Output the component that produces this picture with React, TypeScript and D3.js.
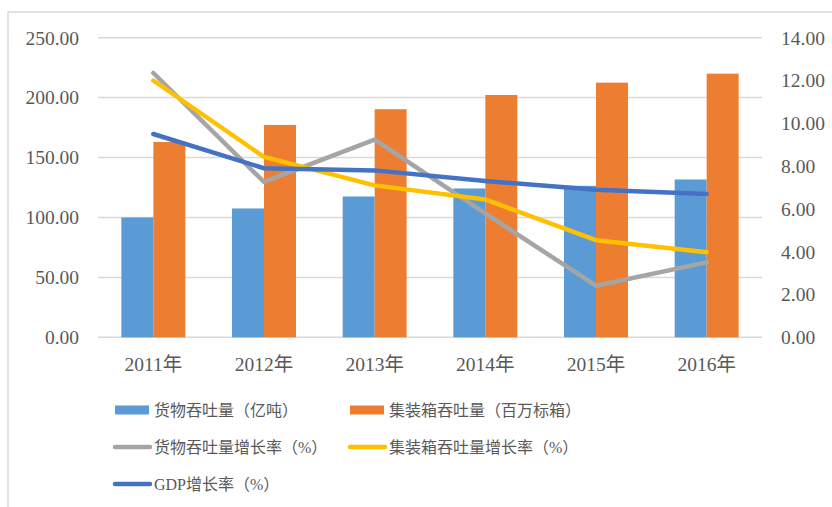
import React from "react";
import * as d3 from "d3";

const years = ["2011年", "2012年", "2013年", "2014年", "2015年", "2016年"];
const cargo = [100, 107.5, 117.5, 124.2, 126.4, 131.7];
const container = [163, 177.2, 190.3, 202.2, 212.5, 220];
const cargoGrowth = [12.35, 7.26, 9.24, 5.79, 2.41, 3.5];
const containerGrowth = [12.0, 8.43, 7.1, 6.44, 4.54, 3.97];
const gdpGrowth = [9.5, 7.9, 7.8, 7.3, 6.9, 6.7];
const leftTicks = [0, 50, 100, 150, 200, 250];
const rightTicks = [0, 2, 4, 6, 8, 10, 12, 14];

const C_CARGO = "#5B9BD5";
const C_CONT = "#ED7D31";
const C_GRAY = "#A5A5A5";
const C_YEL = "#FFC000";
const C_GDP = "#4472C4";
const TXT = "#595959";

export default function App() {
  const W = 832, H = 507;
  const left = 98, right = 762, top = 37.7, bottom = 337.3;
  const x = d3.scaleBand<string>().domain(years).range([left, right]).paddingInner(0.422).paddingOuter(0.211);
  const bw = x.bandwidth() / 2;
  const yL = d3.scaleLinear().domain([0, 250]).range([bottom, top]);
  const yR = d3.scaleLinear().domain([0, 14]).range([bottom, top]);
  const cx = (i: number) => (x(years[i]) as number) + x.bandwidth() / 2;
  const line = d3.line<number>().x((_, i) => cx(i)).y((d) => yR(d));
  const serif = "Liberation Serif, Times New Roman, serif";
  const cjk = "Liberation Serif, Noto Sans CJK SC, serif";

  const legend = [
    { type: "rect", color: C_CARGO, label: "货物吞吐量（亿吨）", x: 115, y: 410 },
    { type: "rect", color: C_CONT, label: "集装箱吞吐量（百万标箱）", x: 350, y: 410 },
    { type: "line", color: C_GRAY, label: "货物吞吐量增长率（%）", x: 115, y: 447 },
    { type: "line", color: C_YEL, label: "集装箱吞吐量增长率（%）", x: 350, y: 447 },
    { type: "line", color: C_GDP, label: "GDP增长率（%）", x: 115, y: 484 },
  ];

  return (
    <svg width={W} height={H} style={{ position: "absolute", left: 0, top: 0, background: "#fff" }}>
      <rect x={0} y={0} width={W} height={H} fill="#fff" />
      <rect x={8} y={12} width={840} height={520} fill="none" stroke="#D9D9D9" strokeWidth={1.5} />
      {leftTicks.map((t) => (
        <line key={"g" + t} x1={left} x2={right} y1={yL(t)} y2={yL(t)} stroke="#D9D9D9" strokeWidth={1.5} />
      ))}
      {leftTicks.map((t) => (
        <text key={"l" + t} x={79} y={yL(t)} dy="0.35em" textAnchor="end" fontFamily={serif} fontSize={19.5} fill={TXT}>
          {t.toFixed(2)}
        </text>
      ))}
      {rightTicks.map((t) => (
        <text key={"r" + t} x={781} y={yR(t)} dy="0.35em" textAnchor="start" fontFamily={serif} fontSize={19.5} fill={TXT}>
          {t.toFixed(2)}
        </text>
      ))}
      {years.map((yr, i) => (
        <g key={yr}>
          <rect x={x(yr) as number} y={yL(cargo[i])} width={bw} height={bottom - yL(cargo[i])} fill={C_CARGO} />
          <rect x={(x(yr) as number) + bw} y={yL(container[i])} width={bw} height={bottom - yL(container[i])} fill={C_CONT} />
          <text x={cx(i)} y={371} textAnchor="middle" fontFamily={cjk} fontSize={19.5} fill={TXT}>
            {yr}
          </text>
        </g>
      ))}
      <path d={line(cargoGrowth) || ""} fill="none" stroke={C_GRAY} strokeWidth={4.5} strokeLinejoin="round" strokeLinecap="round" />
      <path d={line(containerGrowth) || ""} fill="none" stroke={C_YEL} strokeWidth={4.5} strokeLinejoin="round" strokeLinecap="round" />
      <path d={line(gdpGrowth) || ""} fill="none" stroke={C_GDP} strokeWidth={4.5} strokeLinejoin="round" strokeLinecap="round" />
      {legend.map((l) => (
        <g key={l.label}>
          {l.type === "rect" ? (
            <rect x={l.x} y={l.y - 4.5} width={34} height={9} fill={l.color} />
          ) : (
            <line x1={l.x} x2={l.x + 35} y1={l.y} y2={l.y} stroke={l.color} strokeWidth={4.5} strokeLinecap="round" />
          )}
          <text x={l.x + 39} y={l.y} dy="0.35em" fontFamily={cjk} fontSize={16} fill={TXT}>
            {l.label}
          </text>
        </g>
      ))}
    </svg>
  );
}
